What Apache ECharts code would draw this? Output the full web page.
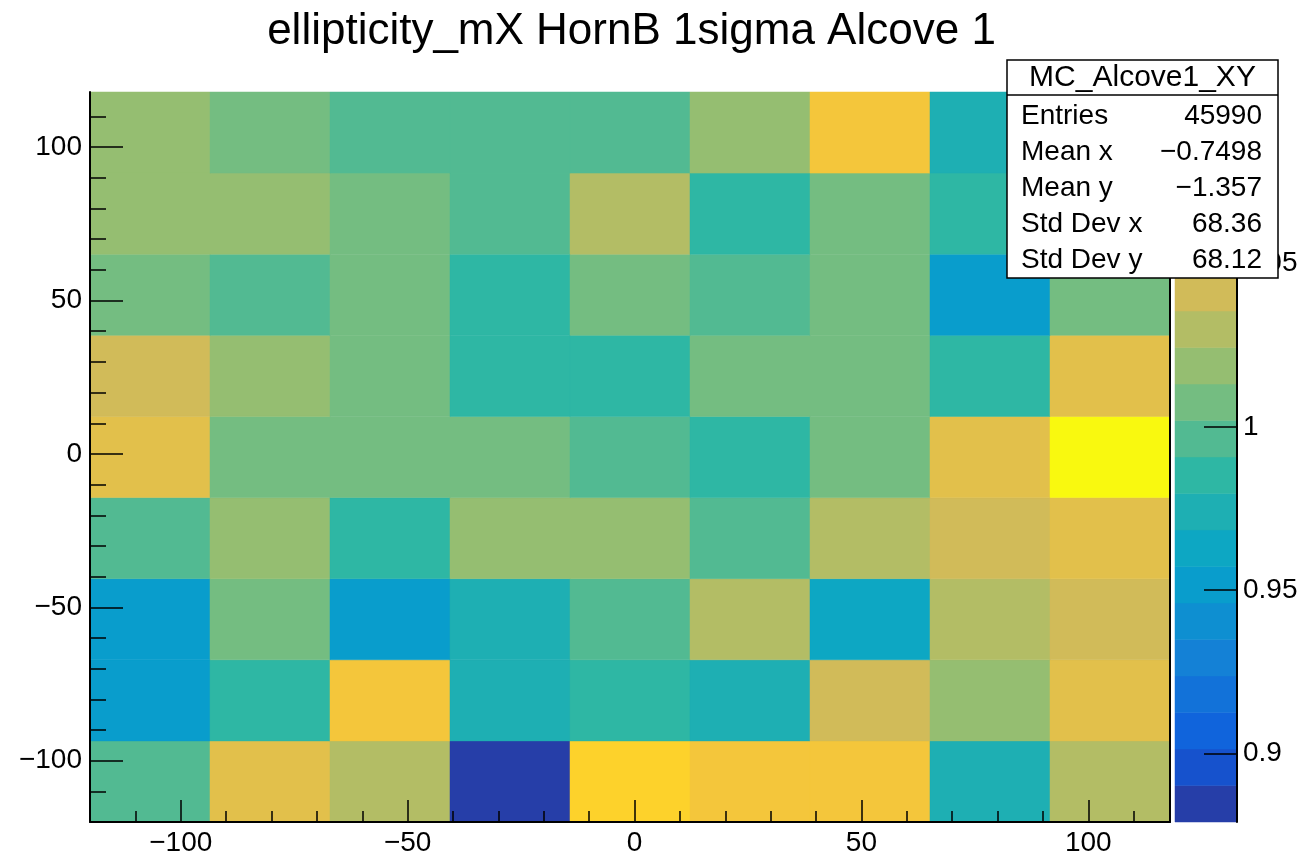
<!DOCTYPE html>
<html>
<head>
<meta charset="utf-8">
<title>ellipticity_mX HornB 1sigma Alcove 1</title>
<script src="https://cdn.jsdelivr.net/npm/echarts@6/dist/echarts.min.js"></script>
<style>
  html, body { margin: 0; padding: 0; background: #fff; }
  #chart { width: 1304px; height: 859px; }
</style>
</head>
<body>
<div id="chart"></div>
<script>
'use strict';

var titleText = 'ellipticity_mX HornB 1sigma Alcove 1';

// histogram binning (9 x 9)
var xRange = [-120, 118];
var yRange = [-120, 118];
var nBinsX = 9;
var nBinsY = 9;

// bin contents, first row = lowest y bin, left to right in x
var ratioRow1 = [0.9961, 1.0519, 1.0302, 0.8790, 1.0751, 1.0638, 1.0629, 0.9743, 1.0296];
var ratioRow2 = [0.9514, 0.9855, 1.0641, 0.9737, 0.9849, 0.9745, 1.0408, 1.0191, 1.0527];
var ratioRow3 = [0.9520, 1.0079, 0.9512, 0.9741, 0.9968, 1.0301, 0.9632, 1.0297, 1.0413];
var ratioRow4 = [0.9960, 1.0185, 0.9856, 1.0190, 1.0186, 0.9967, 1.0303, 1.0409, 1.0520];
var ratioRow5 = [1.0525, 1.0073, 1.0078, 1.0074, 0.9962, 0.9850, 1.0079, 1.0521, 1.1026];
var ratioRow6 = [1.0414, 1.0187, 1.0077, 0.9853, 0.9849, 1.0075, 1.0072, 0.9857, 1.0526];
var ratioRow7 = [1.0078, 0.9965, 1.0074, 0.9851, 1.0080, 0.9963, 1.0073, 0.9519, 1.0077];
var ratioRow8 = [1.0189, 1.0184, 1.0076, 0.9966, 1.0298, 0.9854, 1.0079, 0.9850, 1.0081];
var ratioRow9 = [1.0186, 1.0075, 0.9962, 0.9965, 0.9961, 1.0192, 1.0633, 0.9738, 0.9969];
var ratioRows = [ratioRow1, ratioRow2, ratioRow3, ratioRow4, ratioRow5, ratioRow6, ratioRow7, ratioRow8, ratioRow9];

// z (palette) axis
var zRange = [0.879, 1.1026];
var nContours = 20;

// tick labels
var majorTicks = [-100, -50, 0, 50, 100];
var minorTicks = [-110, -90, -80, -70, -60, -40, -30, -20, -10, 10, 20, 30, 40, 60, 70, 80, 90, 110];
var zTicks = [0.9, 0.95, 1, 1.05];

// stats box
var statsTitle = 'MC_Alcove1_XY';
var statsLabels = ['Entries', 'Mean x', 'Mean y', 'Std Dev x', 'Std Dev y'];
var statsValues = ['45990', '\u22120.7498', '\u22121.357', '68.36', '68.12'];

// ROOT kBird palette, 255 colours like TColor::CreateGradientColorTable
var birdStops = [0.0000, 0.1250, 0.2500, 0.3750, 0.5000, 0.6250, 0.7500, 0.8750, 1.0000];
var birdRed   = [0.2082, 0.0592, 0.0780, 0.0232, 0.1802, 0.5301, 0.8186, 0.9956, 0.9764];
var birdGreen = [0.1664, 0.3599, 0.5041, 0.6419, 0.7178, 0.7492, 0.7328, 0.7862, 0.9832];
var birdBlue  = [0.5293, 0.8684, 0.8385, 0.7914, 0.6425, 0.4662, 0.3499, 0.1968, 0.0539];

var palette = [];
(function () {
    var nColors = 255;
    for (var g = 1; g < birdStops.length; g++) {
        var n = Math.floor(nColors * birdStops[g]) - Math.floor(nColors * birdStops[g - 1]);
        for (var c = 0; c < n; c++) {
            var r = birdRed[g - 1] + c * (birdRed[g] - birdRed[g - 1]) / n;
            var gr = birdGreen[g - 1] + c * (birdGreen[g] - birdGreen[g - 1]) / n;
            var b = birdBlue[g - 1] + c * (birdBlue[g] - birdBlue[g - 1]) / n;
            palette.push('rgb(' + Math.round(r * 255) + ',' + Math.round(gr * 255) + ',' + Math.round(b * 255) + ')');
        }
    }
})();

function bandColor(i) {
    var k = Math.floor((i + 0.99) * palette.length / nContours);
    return palette[Math.min(k, palette.length - 1)];
}

function valueColor(v) {
    var i = Math.floor((v - zRange[0]) / (zRange[1] - zRange[0]) * nContours);
    i = Math.max(0, Math.min(nContours - 1, i));
    return bandColor(i);
}

function rootNumber(v) {
    return String(v).replace('-', '\u2212');
}

// cells: [xlow, ylow, xhigh, yhigh, value]
var bwx = (xRange[1] - xRange[0]) / nBinsX;
var bwy = (yRange[1] - yRange[0]) / nBinsY;
var cells = [];
ratioRows.forEach(function (row, iy) {
    row.forEach(function (v, ix) {
        cells.push([xRange[0] + ix * bwx, yRange[0] + iy * bwy,
                    xRange[0] + (ix + 1) * bwx, yRange[0] + (iy + 1) * bwy, v]);
    });
});

// colour bar bands: [index, zlow, zhigh]
var bands = [];
for (var i = 0; i < nContours; i++) {
    var dz = (zRange[1] - zRange[0]) / nContours;
    bands.push([i, zRange[0] + i * dz, zRange[0] + (i + 1) * dz]);
}

var FONT = 'Liberation Sans';
var black = '#000';

var chart = echarts.init(document.getElementById('chart'));

// title + stats box drawn on top of everything
var overlay = [
    {
        type: 'text', x: 631.5, y: 32, z: 100,
        style: { text: titleText, font: '44px "' + FONT + '"', fill: black, textAlign: 'center', textVerticalAlign: 'middle' }
    },
    {
        type: 'rect', z: 100,
        shape: { x: 1007, y: 60, width: 271, height: 218 },
        style: { fill: '#fff', stroke: black, lineWidth: 1.5 }
    },
    {
        type: 'line', z: 101,
        shape: { x1: 1007, y1: 95, x2: 1278, y2: 95 },
        style: { stroke: black, lineWidth: 1.5 }
    },
    {
        type: 'text', x: 1142.5, y: 78, z: 101,
        style: { text: statsTitle, font: '30px "' + FONT + '"', fill: black, textAlign: 'center', textVerticalAlign: 'middle' }
    }
];
statsLabels.forEach(function (lab, k) {
    var y = 116 + k * 36;
    overlay.push({
        type: 'text', x: 1021, y: y, z: 101,
        style: { text: lab, font: '28px "' + FONT + '"', fill: black, textAlign: 'left', textVerticalAlign: 'middle' }
    });
    overlay.push({
        type: 'text', x: 1262, y: y, z: 101,
        style: { text: statsValues[k], font: '28px "' + FONT + '"', fill: black, textAlign: 'right', textVerticalAlign: 'middle' }
    });
});

var axisLabelStyle = { fontFamily: FONT, fontSize: 28, color: black };

var option = {
    backgroundColor: '#fff',
    animation: false,
    graphic: { elements: overlay },
    grid: [
        { left: 90, right: 134, top: 92, bottom: 37 },
        { left: 1175, right: 67, top: 92, bottom: 37 }
    ],
    xAxis: [
        {
            type: 'value', gridIndex: 0, min: xRange[0], max: xRange[1], position: 'bottom', z: 10,
            axisLine: { show: true, onZero: false, lineStyle: { color: black, width: 2 } },
            axisTick: { show: true, inside: true, length: 22, customValues: majorTicks, lineStyle: { color: black, width: 1.5 } },
            axisLabel: Object.assign({ customValues: majorTicks, margin: 7, formatter: rootNumber }, axisLabelStyle),
            splitLine: { show: false }
        },
        {
            type: 'value', gridIndex: 0, min: xRange[0], max: xRange[1], position: 'bottom', z: 10,
            axisLine: { show: false, onZero: false },
            axisTick: { show: true, inside: true, length: 11, customValues: minorTicks, lineStyle: { color: black, width: 1.5 } },
            axisLabel: { show: false },
            splitLine: { show: false }
        },
        {
            type: 'value', gridIndex: 1, min: 0, max: 1, show: false
        }
    ],
    yAxis: [
        {
            type: 'value', gridIndex: 0, min: yRange[0], max: yRange[1], position: 'left', z: 10,
            axisLine: { show: true, onZero: false, lineStyle: { color: black, width: 2 } },
            axisTick: { show: true, inside: true, length: 33, customValues: majorTicks, lineStyle: { color: black, width: 1.5 } },
            axisLabel: Object.assign({ customValues: majorTicks, margin: 8, formatter: rootNumber }, axisLabelStyle),
            splitLine: { show: false }
        },
        {
            type: 'value', gridIndex: 0, min: yRange[0], max: yRange[1], position: 'left', z: 10,
            axisLine: { show: false, onZero: false },
            axisTick: { show: true, inside: true, length: 16, customValues: minorTicks, lineStyle: { color: black, width: 1.5 } },
            axisLabel: { show: false },
            splitLine: { show: false }
        },
        {
            type: 'value', gridIndex: 0, min: yRange[0], max: yRange[1], position: 'right', z: 10,
            axisLine: { show: true, onZero: false, lineStyle: { color: black, width: 2 } },
            axisTick: { show: false },
            axisLabel: { show: false },
            splitLine: { show: false }
        },
        {
            type: 'value', gridIndex: 1, min: zRange[0], max: zRange[1], position: 'right', z: 10,
            axisLine: { show: true, onZero: false, lineStyle: { color: black, width: 2 } },
            axisTick: { show: true, inside: true, length: 33, customValues: zTicks, lineStyle: { color: black, width: 1.5 } },
            axisLabel: Object.assign({ customValues: zTicks, margin: 6 }, axisLabelStyle),
            splitLine: { show: false }
        }
    ],
    series: [
        {
            type: 'custom',
            name: 'MC_Alcove1_XY',
            xAxisIndex: 0,
            yAxisIndex: 0,
            z: 2,
            data: cells,
            encode: { x: [0, 2], y: [1, 3] },
            renderItem: function (params, api) {
                var p0 = api.coord([api.value(0), api.value(3)]);
                var p1 = api.coord([api.value(2), api.value(1)]);
                var col = valueColor(api.value(4));
                return {
                    type: 'rect',
                    shape: { x: p0[0], y: p0[1], width: p1[0] - p0[0], height: p1[1] - p0[1] },
                    style: { fill: col, stroke: col, lineWidth: 0.5 }
                };
            }
        },
        {
            type: 'custom',
            name: 'palette',
            xAxisIndex: 2,
            yAxisIndex: 3,
            z: 2,
            data: bands,
            encode: { y: [1, 2] },
            renderItem: function (params, api) {
                var p0 = api.coord([0, api.value(2)]);
                var p1 = api.coord([1, api.value(1)]);
                var col = bandColor(api.value(0));
                return {
                    type: 'rect',
                    shape: { x: p0[0], y: p0[1], width: p1[0] - p0[0], height: p1[1] - p0[1] },
                    style: { fill: col, stroke: col, lineWidth: 0.5 }
                };
            }
        }
    ]
};

chart.setOption(option);
</script>
</body>
</html>
